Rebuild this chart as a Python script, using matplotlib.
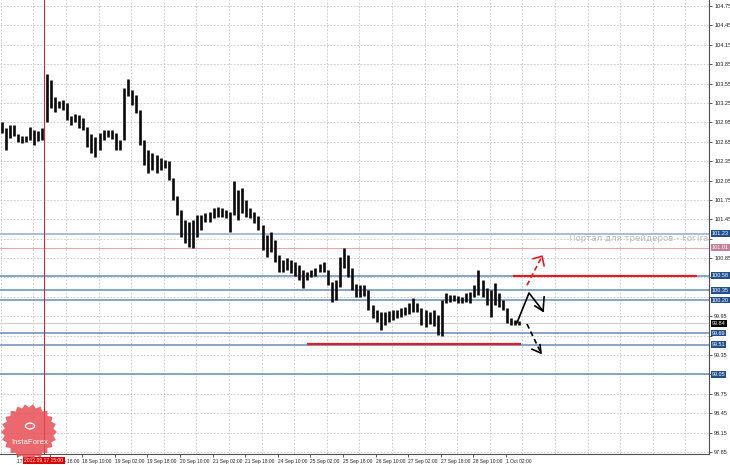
import numpy as np
import matplotlib
matplotlib.use("Agg")
import matplotlib.pyplot as plt
from matplotlib.patches import Polygon, Circle
from matplotlib.transforms import blended_transform_factory

# ---------------- data ----------------
# 2-hour bars (high / low), 14 Sep - 1 Oct
highs = [102.96, 102.86, 102.91, 102.91, 102.77, 102.74, 102.74, 102.88, 102.83, 102.82,
         102.86, 103.70, 103.61, 103.34, 103.28, 103.30, 103.25, 103.05, 103.08, 103.06,
         103.02, 102.88, 102.77, 102.72, 102.79, 102.83, 102.83, 102.83, 102.79, 102.68,
         103.48, 103.62, 103.45, 103.37, 103.14, 102.68, 102.52, 102.48, 102.45, 102.40,
         102.37, 102.35, 102.09, 101.81, 101.59, 101.44, 101.41, 101.44, 101.52, 101.52,
         101.55, 101.56, 101.63, 101.64, 101.63, 101.59, 101.56, 102.04, 101.90, 101.93,
         101.75, 101.63, 101.56, 101.50, 101.36, 101.21, 101.25, 101.13, 100.90, 100.82,
         100.85, 100.82, 100.79, 100.74, 100.67, 100.64, 100.67, 100.70, 100.76, 100.79,
         100.67, 100.48, 100.51, 100.87, 101.01, 100.90, 100.70, 100.45, 100.43, 100.43,
         100.36, 100.12, 100.05, 100.02, 100.02, 100.03, 100.05, 100.05, 100.08, 100.09,
         100.16, 100.23, 100.16, 100.08, 100.05, 100.02, 100.05, 99.97, 100.20, 100.31,
         100.28, 100.28, 100.26, 100.25, 100.31, 100.33, 100.43, 100.67, 100.51, 100.39,
         100.36, 100.47, 100.31, 100.20, 100.08, 99.92, 99.89, 99.88]
lows = [102.79, 102.52, 102.71, 102.74, 102.65, 102.63, 102.65, 102.68, 102.60, 102.66,
        102.68, 102.96, 103.17, 103.11, 103.17, 103.14, 102.99, 102.91, 102.96, 102.86,
        102.83, 102.57, 102.48, 102.41, 102.52, 102.68, 102.72, 102.69, 102.52, 102.52,
        102.68, 103.36, 103.22, 103.10, 102.60, 102.29, 102.17, 102.21, 102.17, 102.21,
        102.24, 102.06, 101.75, 101.52, 101.18, 101.08, 101.02, 101.01, 101.18, 101.28,
        101.41, 101.41, 101.47, 101.49, 101.49, 101.47, 101.25, 101.52, 101.44, 101.55,
        101.49, 101.47, 101.39, 101.28, 100.98, 100.87, 100.94, 100.79, 100.64, 100.64,
        100.67, 100.62, 100.57, 100.51, 100.39, 100.51, 100.56, 100.57, 100.64, 100.64,
        100.43, 100.17, 100.20, 100.40, 100.70, 100.56, 100.36, 100.25, 100.25, 100.26,
        100.05, 99.92, 99.86, 99.74, 99.82, 99.86, 99.89, 99.92, 99.94, 99.97,
        99.99, 100.02, 100.02, 99.82, 99.78, 99.83, 99.80, 99.66, 99.64, 100.16,
        100.17, 100.19, 100.16, 100.16, 100.17, 100.16, 100.25, 100.28, 100.25, 100.12,
        99.94, 100.12, 100.09, 100.05, 99.85, 99.82, 99.82, 99.82]
bar_hours_step = 2

price_ticks = [97.85, 98.15, 98.45, 98.75, 99.05, 99.35, 99.65, 99.95, 100.25, 100.55,
               100.85, 101.15, 101.45, 101.75, 102.05, 102.35, 102.65, 102.95, 103.25,
               103.55, 103.85, 104.15, 104.45, 104.75]
time_ticks = [-8, 8, 24, 40, 56, 72, 88, 104, 120, 136, 152, 168, 184, 200, 216, 232, 248]
time_labels = ["14 Sep 10:00", "17 Sep 02:00", "17 Sep 18:00", "18 Sep 10:00",
               "19 Sep 02:00", "19 Sep 18:00", "20 Sep 10:00", "21 Sep 02:00",
               "21 Sep 18:00", "24 Sep 10:00", "25 Sep 02:00", "25 Sep 18:00",
               "26 Sep 10:00", "27 Sep 02:00", "27 Sep 18:00", "28 Sep 10:00",
               "1 Oct 02:00"]
grid_hours = list(range(0, 337, 16))

blue_levels = [100.58, 100.35, 100.20, 99.69, 99.51, 99.05]
light_level = 101.23
pink_level = 101.01
bid_level = 99.84

red_segments = [(251.4, 341.7, 100.58), (150.3, 255.4, 99.525)]
crosshair_hour = 21.25
crosshair_label = "2012.09.17 15:00"

# hand-drawn forecast arrows (hour, price)
zig_h = [253.4, 259.3, 266.2]
zig_p = [99.85, 100.31, 100.03]
zig_head_h = [262.2, 266.2, 266.7]
zig_head_p = [100.11, 100.03, 100.25]
up_h = [258.3, 265.7]
up_p = [100.43, 100.88]
up_head_h = [261.3, 265.7, 266.7]
up_head_p = [100.84, 100.88, 100.73]
dn_h = [258.3, 265.2]
dn_p = [99.83, 99.38]
dn_head_h = [260.8, 265.2, 264.7]
dn_head_p = [99.44, 99.38, 99.51]

watermark = "Портал для трейдеров - ForTrader.ru"

# ---------------- figure ----------------
plt.rcParams['font.family'] = ['Liberation Sans', 'DejaVu Sans']
W, H = 730, 465
fig = plt.figure(figsize=(W / 100, H / 100), dpi=100)
fig.patch.set_facecolor('white')
ax = fig.add_axes([0, (H - 454) / H, 709 / W, 454 / H])
ax.set_facecolor('white')

px_per_hour = 2.0375
x_left = 8 - 17 / px_per_hour
x_right = x_left + 709 / px_per_hour

# grid
for g in grid_hours:
    ax.axvline(g, color='#c4c4c4', lw=0.6, ls=(0, (2, 2)), zorder=0)
for p in price_ticks:
    ax.axhline(p, color='#c4c4c4', lw=0.6, ls=(0, (2, 2)), zorder=0)

# level lines
ax.axhline(light_level, color='#a9bdd6', lw=1.4, zorder=1)
ax.axhline(pink_level, color='#e6a6b6', lw=0.8, zorder=1)
ax.axhline(bid_level, color='#cfcfcf', lw=0.8, zorder=1)
for lv in blue_levels:
    ax.axhline(lv, color='#6b8cb5', lw=1.1, zorder=1)

# watermark
ax.text(278.9, 101.115, watermark, color='#bdbdbd', fontsize=6.2,
        family='DejaVu Sans', va='baseline', ha='left', clip_on=True, zorder=1.5)

# crosshair
ax.axvline(crosshair_hour, color='#c83030', lw=0.8, zorder=2)

# bars
xs = np.arange(len(highs)) * bar_hours_step + 0.5
ax.vlines(xs, lows, highs, color='#0a0a0a', lw=1.9, zorder=3)

# red segments
for h0, h1, lv in red_segments:
    ax.plot([h0, h1], [lv, lv], color='#e51c23', lw=1.6, zorder=4, solid_capstyle='butt')

# arrows
ax.plot(zig_h, zig_p, color='black', lw=1.2, zorder=5)
ax.plot(zig_head_h, zig_head_p, color='black', lw=1.2, zorder=5)
ax.plot(up_h, up_p, color='#e51c23', lw=1.2, ls=(0, (3, 2)), zorder=5)
ax.plot(up_head_h, up_head_p, color='#e51c23', lw=1.2, zorder=5)
ax.plot(dn_h, dn_p, color='black', lw=1.2, ls=(0, (3, 2)), zorder=5)
ax.plot(dn_head_h, dn_head_p, color='black', lw=1.2, zorder=5)

# spines
for s in ['top', 'left']:
    ax.spines[s].set_visible(False)
for s in ['right', 'bottom']:
    ax.spines[s].set_color('#505050')
    ax.spines[s].set_linewidth(0.8)

# y axis on the right
box_levels = [light_level, pink_level, bid_level] + blue_levels
ax.yaxis.tick_right()
ax.set_yticks(price_ticks)
ylabels = []
for p in price_ticks:
    if min(abs(p - b) for b in box_levels) < 0.10:
        ylabels.append("")
    else:
        ylabels.append(f"{p:.2f}")
ax.set_yticklabels(ylabels, fontsize=4.0, color='#202020')
ax.tick_params(axis='y', direction='out', length=2.5, width=0.6, pad=1.2, colors='#404040')

# x axis
ax.set_xticks(time_ticks)
ax.set_xticklabels(time_labels, fontsize=3.5, color='#202020', ha='left')
ax.tick_params(axis='x', direction='out', length=2.5, width=0.6, pad=1.2, colors='#404040')
for lbl in ax.get_xticklabels() + ax.get_yticklabels():
    lbl.set_color('#202020')

# limits (after ticks so that ticks do not widen the view)
ax.set_xlim(x_left, x_right)
ax.set_ylim(97.819, 104.843)

# price boxes
ytr = blended_transform_factory(ax.transAxes, ax.transData)
def box(level, fc):
    ax.text(1.0 + 3 / 709, level, f"{level:.2f}", transform=ytr, fontsize=4.0,
            color='white', ha='left', va='center', clip_on=False, zorder=6,
            bbox=dict(boxstyle='square,pad=0.15', fc=fc, ec='none'))
box(light_level, '#22508f')
box(pink_level, '#c4809a')
for lv in blue_levels:
    box(lv, '#22508f')
box(bid_level, '#000000')

# crosshair time label
xtr = blended_transform_factory(ax.transData, ax.transAxes)
ax.text(crosshair_hour, -6.5 / 454, crosshair_label, transform=xtr, fontsize=3.6,
        color='white', ha='center', va='center', clip_on=False, zorder=6,
        bbox=dict(boxstyle='square,pad=0.25', fc='#e00000', ec='none'))

# InstaForex badge (figure pixels, origin top-left)
cx, cy, ro, ri = 29, 432, 28, 24.5
n = 22
ang = np.linspace(0, 2 * np.pi, 2 * n, endpoint=False)
rr = np.where(np.arange(2 * n) % 2 == 0, ro, ri)
bx = (cx + rr * np.cos(ang)) / W
by = 1 - (cy + rr * np.sin(ang)) / H
fig.add_artist(Polygon(np.column_stack([bx, by]), closed=True, transform=fig.transFigure,
                       fc='#e8474f', ec='none', alpha=0.82, zorder=10))
fig.add_artist(Circle((30 / W, 1 - 426 / H), 4.5 / W, transform=fig.transFigure,
                      fc='none', ec='white', lw=1.0, zorder=11))
fig.text(30 / W, 1 - 442 / H, "InstaForex", ha='center', va='center', color='white',
         fontsize=5.6, zorder=11)

fig.savefig("out.png", dpi=100)
